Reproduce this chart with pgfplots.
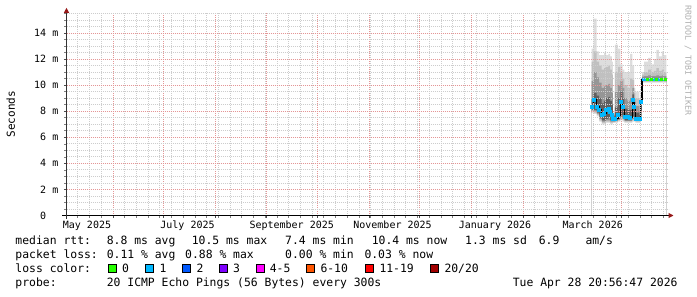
\documentclass[border=0pt]{standalone}
\usepackage{fontspec}
\setmonofont{DejaVu Sans Mono}
\usepackage{pgfplots}
\usepackage{pgfplotstable}
\pgfplotsset{compat=1.18}
\usetikzlibrary{arrows.meta}

\definecolor{lossA}{HTML}{26FF00}
\definecolor{lossB}{HTML}{00B8FF}
\definecolor{lossC}{HTML}{0059FF}
\definecolor{lossD}{HTML}{7E00FF}
\definecolor{lossE}{HTML}{FF00FF}
\definecolor{lossF}{HTML}{FF5500}
\definecolor{lossG}{HTML}{FF0000}
\definecolor{lossH}{HTML}{A10000}
\definecolor{mgridc}{RGB}{228,150,150}
\definecolor{gridc}{RGB}{205,205,205}
\definecolor{arrowred}{RGB}{150,25,25}
\definecolor{smokeA}{RGB}{221,221,221}
\definecolor{smokeB}{RGB}{192,192,192}
\definecolor{smokeC}{RGB}{150,150,150}
\definecolor{smokeD}{RGB}{95,95,95}
\definecolor{credit}{RGB}{175,175,175}

% x = days since 2025-06-01
\pgfplotstableread{
x     t1    b1    t2    b2    t3    b3    t4    b4    med
286.0 12.8  7.9   11.8  8.0   10.3  8.1   9.0   8.1   8.34
287.2 15.1  7.8   12.6  7.9   11.0  8.0   9.4   8.1   8.86
289.0 12.6  7.6   11.8  7.7   10.6  7.8   9.2   7.9   8.34
290.5 12.3  7.2   11.5  7.3   10.2  7.4   9.0   7.5   8.09
292.0 12.3  7.0   11.2  7.1   9.8   7.2   8.6   7.3   7.71
293.5 12.5  7.0   11.3  7.1   9.9   7.2   8.8   7.3   7.84
294.7 12.3  7.1   11.4  7.2   10.0  7.3   9.0   7.4   8.09
296.0 12.4  7.1   11.5  7.2   10.1  7.3   9.1   7.5   8.22
297.1 12.2  7.0   11.2  7.1   9.8   7.2   8.8   7.3   7.96
298.1 11.8  7.0   10.8  7.1   9.4   7.2   8.5   7.3   7.71
298.7 7.9   7.1   7.8   7.15  7.7   7.2   7.6   7.25  7.45
300.0 13.1  7.1   11.0  7.2   9.5   7.2   8.3   7.3   7.45
301.8 12.8  7.2   11.4  7.3   10.0  7.3   9.0   7.4   7.71
303.2 11.6  7.3   11.0  7.4   10.3  7.5   9.5   7.7   8.73
304.6 11.2  7.2   10.5  7.3   9.8   7.4   9.0   7.5   8.34
305.6 11.0  7.1   10.0  7.2   9.0   7.25  8.2   7.3   7.58
307.4 11.0  7.1   9.8   7.2   8.8   7.25  8.1   7.3   7.58
309.0 12.4  7.1   10.5  7.2   9.0   7.25  8.1   7.3   7.50
310.4 11.5  7.2   10.4  7.3   9.8   7.4   9.3   7.6   8.86
311.4 9.8   7.2   9.4   7.3   9.0   7.4   8.7   7.5   8.34
312.2 9.5   7.1   9.0   7.2   8.4   7.25  7.9   7.3   7.45
314.6 9.0   7.1   8.5   7.2   8.0   7.25  7.7   7.3   7.45
315.4 9.5   7.3   9.2   7.4   9.0   7.6   8.9   8.0   8.73
316.2 11.0  10.2  10.8  10.25 10.65 10.3  10.55 10.35 10.47
317.4 11.8  10.2  11.0  10.25 10.7  10.3  10.55 10.35 10.45
319.8 12.1  10.2  11.2  10.25 10.75 10.3  10.55 10.35 10.45
321.6 11.6  10.2  11.0  10.25 10.7  10.3  10.55 10.35 10.45
323.3 12.0  10.2  11.1  10.25 10.7  10.3  10.55 10.35 10.45
324.8 12.7  10.2  11.3  10.25 10.75 10.3  10.55 10.35 10.45
326.3 12.2  10.2  11.1  10.25 10.7  10.3  10.55 10.35 10.45
328.1 12.6  10.2  11.2  10.25 10.75 10.3  10.55 10.35 10.45
329.3 12.3  10.2  11.0  10.25 10.7  10.3  10.55 10.35 10.45
330.8 12.3  10.2  11.0  10.25 10.7  10.3  10.55 10.35 10.45
}\smoke

\newcommand{\tickfont}{\ttfamily\fontsize{10bp}{12bp}\selectfont}
\newcommand{\legfont}{\ttfamily\fontsize{11.4bp}{13bp}\selectfont}

\begin{document}
\begin{tikzpicture}
\useasboundingbox (0,0) rectangle (697bp,297bp);
\begin{axis}[
  at={(66.5bp,81.5bp)}, anchor=south west,
  scale only axis, width=602bp, height=202.7bp,
  xmin=-27.73, xmax=332.0, ymin=0, ymax=15.55,
  axis lines=left,
  axis on top,
  x axis line style={black, line width=1bp, shorten <=-4bp, shorten >=-5bp, -{Triangle[length=5bp,width=5bp,color=arrowred]}},
  y axis line style={black!80, line width=1bp, shorten <=-3bp, shorten >=-5bp, -{Triangle[length=5bp,width=5bp,color=arrowred]}},
  xtick={0,30,61,92,122,153,183,214,245,273,304},
  xticklabels={,,,,,,,,,,},
  minor xtick={-21,-14,-7,7,14,21,28,35,42,49,56,63,70,77,84,91,98,105,112,119,126,133,140,147,154,161,168,175,182,189,196,203,210,217,224,231,238,252,259,266,280,287,294,301,308,315,322,329},
  extra x ticks={-15.48,44.58,106.85,167.09,228.34,286.72},
  extra x tick labels={May 2025,July 2025,September 2025,November 2025,January 2026,March 2026},
  extra x tick style={grid=none, major tick length=0pt},
  ytick={0,2,4,6,8,10,12,14},
  yticklabels={0\hphantom{\ m},2 m,4 m,6 m,8 m,10 m,12 m,14 m},
  minor ytick={0.5,1,1.5,2.5,3,3.5,4.5,5,5.5,6.5,7,7.5,8.5,9,9.5,10.5,11,11.5,12.5,13,13.5,14.5,15,15.5},
  grid=both,
  major grid style={draw=mgridc, line width=0.8bp, dash pattern=on 1bp off 1bp},
  minor grid style={draw=gridc, line width=0.8bp, dash pattern=on 1bp off 1bp},
  tick align=outside,
  major tick length=2.5bp, minor tick length=2bp,
  every major tick/.append style={black!70, line width=0.8bp},
  every minor tick/.append style={black!50, line width=0.6bp},
  ticklabel style={font=\tickfont},
  xticklabel style={anchor=base, inner sep=0pt, yshift=-12.5bp},
  yticklabel style={anchor=base east, inner sep=0pt, xshift=-5.5bp, yshift=-3.6bp},
  ylabel={Seconds},
  ylabel style={at={(axis description cs:-0.0925,0.5)}, anchor=center, font=\ttfamily\fontsize{11bp}{13bp}\selectfont},
]
% smoke bands, painted from the outside in (each filled down to 0)
\addplot[fill=smokeA, draw=none, const plot] table[x=x,y=t1]{\smoke} \closedcycle;
\addplot[fill=smokeB, draw=none, const plot] table[x=x,y=t2]{\smoke} \closedcycle;
\addplot[fill=smokeC, draw=none, const plot] table[x=x,y=t3]{\smoke} \closedcycle;
\addplot[fill=smokeD, draw=none, const plot] table[x=x,y=t4]{\smoke} \closedcycle;
\addplot[fill=smokeC, draw=none, const plot] table[x=x,y=b4]{\smoke} \closedcycle;
\addplot[fill=smokeB, draw=none, const plot] table[x=x,y=b3]{\smoke} \closedcycle;
\addplot[fill=smokeA, draw=none, const plot] table[x=x,y=b2]{\smoke} \closedcycle;
\addplot[fill=white, draw=none, const plot] table[x=x,y=b1]{\smoke} \closedcycle;
% median
\addplot[black, line width=1.2bp, const plot, mark=none] table[x=x,y=med]{\smoke};
% loss colour of median: 1 lost
\addplot[lossB, only marks, mark=square*, mark size=1.5bp] coordinates {
(286.0,8.34) (287.2,8.86) (289.0,8.34) (290.5,8.09) (292.0,7.71) (293.5,7.84)
(294.7,8.09) (296.0,8.22) (297.1,7.96) (298.1,7.71) (298.7,7.45) (300.0,7.45)
(301.8,7.71) (303.2,8.73) (304.6,8.34) (305.6,7.58) (307.4,7.58) (309.0,7.50)
(310.4,8.86) (311.4,8.34) (312.2,7.45) (314.6,7.45) (315.4,8.73)};
\addplot[lossB, line width=3bp, const plot, mark=none] coordinates {(316.2,10.45) (330.8,10.45)};
% loss colour of median: 0 lost
\addplot[lossA, only marks, mark=square*, mark size=1bp] coordinates {
(319.0,10.45) (321.9,10.45) (324.5,10.45) (327.9,10.45) (329.9,10.45)};
\end{axis}

% credit
\node[rotate=-90, anchor=west, inner sep=0pt, text=credit, font=\ttfamily\fontsize{8.3bp}{10bp}\selectfont] at (688bp,292bp) {RRDTOOL / TOBI OETIKER};

% legend rows
\begin{scope}[every node/.style={anchor=base west, inner sep=0pt, font=\legfont}]
\node at (15.3bp,52bp) {median rtt:};
\node at (106.6bp,52bp) {8.8 ms avg};
\node at (191.6bp,52bp) {10.5 ms max};
\node at (285bp,52bp) {7.4 ms min};
\node at (371.6bp,52bp) {10.4 ms now};
\node at (465bp,52bp) {1.3 ms sd};
\node at (538.6bp,52bp) {6.9};
\node at (585.3bp,52bp) {am/s};

\node at (15.3bp,38.5bp) {packet loss:};
\node at (106.6bp,38.5bp) {0.11 \% avg};
\node at (185bp,38.5bp) {0.88 \% max};
\node at (285bp,38.5bp) {0.00 \% min};
\node at (364.3bp,38.5bp) {0.03 \% now};

\node at (15.3bp,24.5bp) {loss color:};
\filldraw[fill=lossA, draw=black, line width=0.9bp] (108.3bp,24.8bp) rectangle ++(8bp,8bp);
\node at (121.9bp,24.5bp) {0};
\filldraw[fill=lossB, draw=black, line width=0.9bp] (145.7bp,24.8bp) rectangle ++(8bp,8bp);
\node at (159.3bp,24.5bp) {1};
\filldraw[fill=lossC, draw=black, line width=0.9bp] (182.7bp,24.8bp) rectangle ++(8bp,8bp);
\node at (196.3bp,24.5bp) {2};
\filldraw[fill=lossD, draw=black, line width=0.9bp] (219.3bp,24.8bp) rectangle ++(8bp,8bp);
\node at (232.9bp,24.5bp) {3};
\filldraw[fill=lossE, draw=black, line width=0.9bp] (256bp,24.8bp) rectangle ++(8bp,8bp);
\node at (269.6bp,24.5bp) {4-5};
\filldraw[fill=lossF, draw=black, line width=0.9bp] (306.7bp,24.8bp) rectangle ++(8bp,8bp);
\node at (320.3bp,24.5bp) {6-10};
\filldraw[fill=lossG, draw=black, line width=0.9bp] (365.7bp,24.8bp) rectangle ++(8bp,8bp);
\node at (379.3bp,24.5bp) {11-19};
\filldraw[fill=lossH, draw=black, line width=0.9bp] (430.7bp,24.8bp) rectangle ++(8bp,8bp);
\node at (444.3bp,24.5bp) {20/20};

\node at (15.3bp,11bp) {probe:};
\node at (106.6bp,11bp) {20 ICMP Echo Pings (56 Bytes) every 300s};
\node at (512.6bp,11bp) {Tue Apr 28 20:56:47 2026};
\end{scope}
\end{tikzpicture}
\end{document}
